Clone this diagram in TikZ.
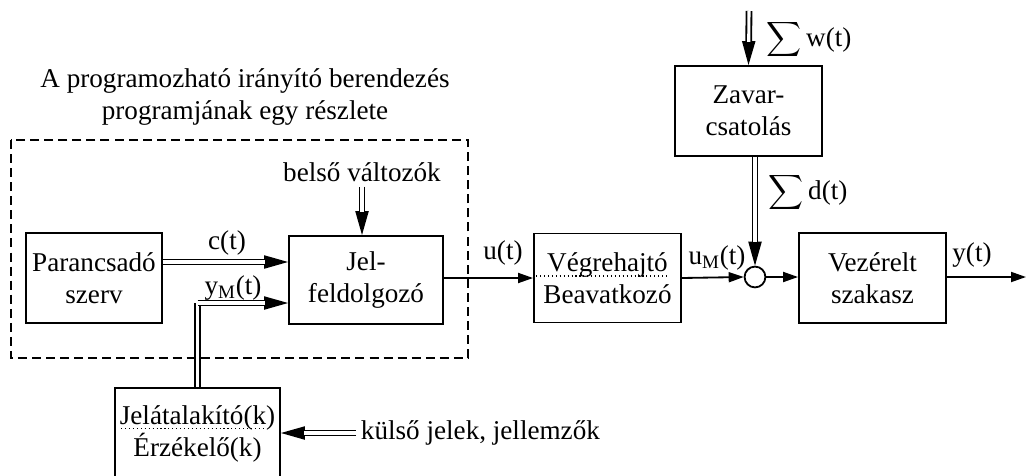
\documentclass[tikz,border=0pt]{standalone}
\usepackage{amsmath}
\usepackage{fontspec}
\setmainfont{Liberation Serif}
\usetikzlibrary{positioning,calc,arrows.meta}

\newcommand{\szumma}{{\fontsize{17}{17}\selectfont$\displaystyle\sum$}}
% filled tip first, then the double line over its stem
\newcommand{\duplanyil}[2]{%
  \draw[hegy] ($#2!1cm!#1$)--#2;
  \draw[duplavonal] #1--#2;}

\tikzset{
  blokk/.style={draw=black,line width=1.3pt,align=center,inner sep=2pt},
  nyil/.style={line width=1.3pt,-{Triangle[length=0.375cm,width=0.25cm]}},
  duplavonal/.style={double=white,double distance=2.2pt,line width=1.3pt,shorten >=0.58cm},
  hegy/.style={line width=1pt,-{Triangle[length=0.6cm,width=0.33cm]}},
  pontozott/.style={line width=0.8pt,dotted},
}

\begin{document}
\begin{tikzpicture}[x=0.025cm,y=-0.025cm,font=\fontsize{19.3}{23}\selectfont]
		\useasboundingbox (0,0) rectangle (1026,475);
		% dashed frame around the program part
		\draw[line width=1.3pt,dash pattern=on 6.4pt off 3.6pt] (11,140) rectangle (468,358);
		\node[align=center] (cim) at (245,97) {A programozható irányító berendezés\\programjának egy részlete};
		
		\node[blokk,minimum width=3.4cm,minimum height=2.25cm] (parancs) at (94,278) {Parancsadó\\szerv};
		\node[blokk,minimum width=3.85cm,minimum height=2.2cm] (jel) at (366,280) {Jel-\\feldolgozó};
		\node[blokk,minimum width=3.675cm,minimum height=2.225cm] (vegre) at (607.5,278) {Végrehajtó\\Beavatkozó};
		\node[blokk,minimum width=3.675cm,minimum height=2.25cm] (zavar) at (748.5,111) {Zavar-\\csatolás};
		\node[blokk,minimum width=3.675cm,minimum height=2.25cm] (vez) at (872.5,278) {Vezérelt\\szakasz};
		\node[blokk,minimum width=4.125cm,minimum height=2.3cm,anchor=north] (erz) at (197.5,387) {Jelátalakító(k)\\Érzékelő(k)};
		\node[draw=black,line width=1.3pt,circle,minimum size=0.52cm,inner sep=0pt] (kor) at (755,277) {};
		
		\node (belso) at (362,172) {belső változók};
		\node[anchor=west] (kulso) at (356,433) {külső jelek, jellemzők};
		\coordinate (zbe) at (749,11);
		\coordinate (ki) at (1026,277);
		\coordinate (cki) at ([yshift=0.4cm]parancs.east);
		\coordinate (cbe) at (cki -| jel.west);
		\coordinate (ybe) at ([yshift=-0.575cm]jel.west);
		\coordinate (ysarok) at (erz.north |- ybe);
		
		% labels of the signals
		\node (c) at (227,243) {c(t)};
		\node (yM) at (233,288) {y\textsubscript{M}(t)};
		\node (u) at (503,253) {u(t)};
		\node (uM) at (717,258) {u\textsubscript{M}(t)};
		\node (y) at (972,255) {y(t)};
		\node[inner sep=0pt] (w) at (809,40) {\szumma\,w(t)};
		\node[inner sep=0pt] (d) at (808,193) {\szumma\,d(t)};
		
		\draw[pontozott] ([xshift=0.075cm,yshift=0.05cm]vegre.west)--([xshift=-0.325cm,yshift=0.05cm]vegre.east);
		\draw[pontozott] ([xshift=0.175cm,yshift=0.125cm]erz.west)--([xshift=-0.375cm,yshift=0.125cm]erz.east);
		
		\duplanyil{(cki)}{(cbe)}
		\draw[double=white,double distance=2.2pt,line width=1.3pt] (erz.north)--(ysarok);
		\duplanyil{(ysarok)}{(ybe)}
		\duplanyil{(belso.south)}{(belso.south |- jel.north)}
		\duplanyil{(kulso.west)}{(kulso.west -| erz.east)}
		\duplanyil{(zbe)}{(zavar.north)}
		\duplanyil{(zavar.south -| kor.north)}{(kor.north)}
		\draw[nyil] (jel.east |- vegre.west)--(vegre.west);
		\draw[nyil] (vegre.east)--(kor.west);
		\draw[nyil] (kor.east)--(kor.east -| vez.west);
		\draw[nyil] (vez.east |- ki)--(ki);
	\end{tikzpicture}
\end{document}
